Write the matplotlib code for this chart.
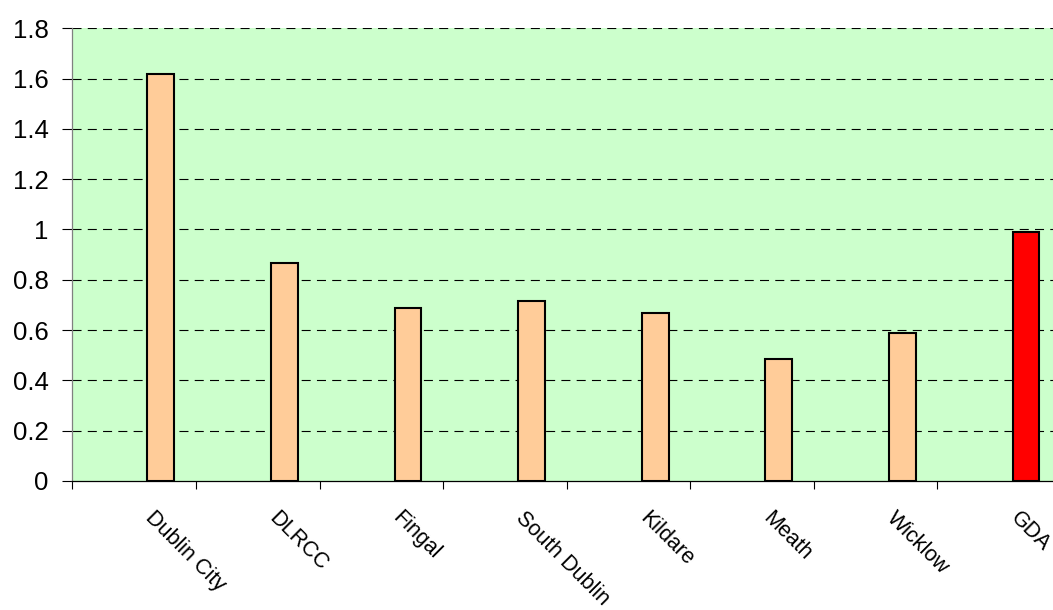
import matplotlib
matplotlib.use("Agg")
import matplotlib.pyplot as plt
import numpy as np

categories = ["Dublin City", "DLRCC", "Fingal", "South Dublin", "Kildare", "Meath", "Wicklow", "GDA"]
values = [1.62, 0.867, 0.686, 0.716, 0.667, 0.485, 0.587, 0.989]
bar_colors = ["#FFCC99"] * 7 + ["#FF0000"]
yticks = [0, 0.2, 0.4, 0.6, 0.8, 1.0, 1.2, 1.4, 1.6, 1.8]
ytick_labels = ["0", "0.2", "0.4", "0.6", "0.8", "1", "1.2", "1.4", "1.6", "1.8"]

plt.rcParams['font.family'] = ['Liberation Sans', 'DejaVu Sans']
plt.rcParams['lines.scale_dashes'] = False

W, H = 1053, 610
fig = plt.figure(figsize=(W / 100, H / 100), dpi=100)
ax = fig.add_axes([72.3 / W, (H - 481) / H, 988.8 / W, 452.7 / H])
ax.set_facecolor("#CCFFCC")

n = len(categories)
centers = np.arange(n) + 0.716
ax.bar(centers, values, width=0.218, color=bar_colors, edgecolor="black", linewidth=1.5, zorder=3)

ax.set_xlim(0, n)
ax.set_ylim(0, 1.8)
ax.set_yticks(yticks)
ax.set_yticklabels(ytick_labels, fontsize=18.5)
for y in yticks[1:]:
    ax.axhline(y, color="black", linewidth=0.8, linestyle=(0, (6.5, 4.5)), zorder=1)

ax.set_xticks(np.arange(n + 1))
ax.set_xticklabels([""] * (n + 1))
ax.set_xticks(centers - 0.04, minor=True)
ax.set_xticklabels(categories, minor=True, fontsize=15.5, rotation=-45,
                   rotation_mode="anchor", ha="left", va="top")
ax.tick_params(axis="x", which="minor", length=0, pad=19)
ax.tick_params(axis="x", which="major", length=6, width=0.8, color="black", direction="out")
ax.tick_params(axis="y", length=7, width=0.8, color="black", pad=10, direction="out")

for s in ["top", "right"]:
    ax.spines[s].set_visible(False)
ax.spines["left"].set_color("#808080")
ax.spines["left"].set_linewidth(0.9)
ax.spines["bottom"].set_color("black")
ax.spines["bottom"].set_linewidth(0.9)

fig.savefig("out.png", dpi=100)
